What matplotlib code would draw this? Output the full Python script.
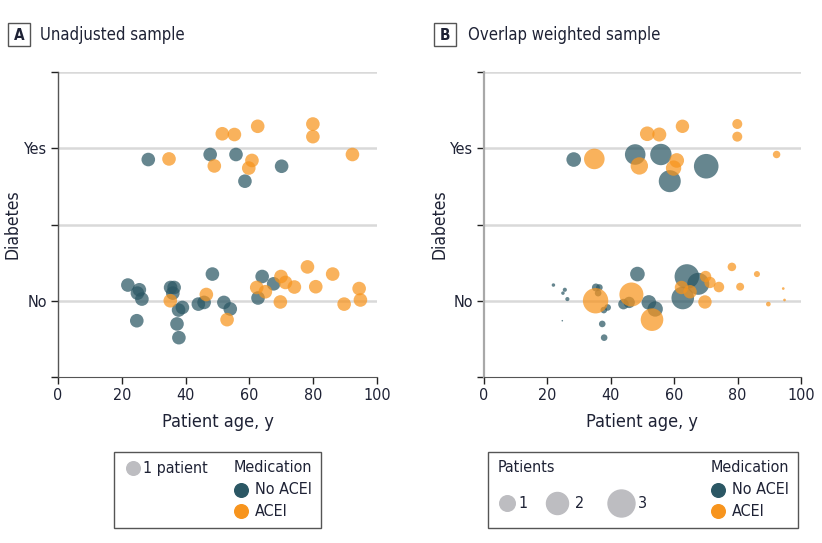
import matplotlib.pyplot as plt
from matplotlib.patches import Rectangle

# Font: condensed sans, fall back to DejaVu
plt.rcParams['font.family'] = ['DejaVu Sans Condensed', 'DejaVu Sans']
plt.rcParams['font.stretch'] = 'condensed'

# Dati: pazienti con diabete (Yes) - eta, posizione jitter, ACEI, peso overlap
yes_age = [28.3, 34.8, 51.5, 55.3, 62.6, 79.9, 79.9, 47.7, 55.8, 49.0, 60.8, 59.8, 70.1, 58.6, 92.3]
yes_pos = [0.926, 0.930, 1.095, 1.090, 1.144, 1.159, 1.076, 0.959, 0.959, 0.884, 0.920, 0.870, 0.882, 0.784, 0.959]
yes_acei = [0, 1, 1, 1, 1, 1, 1, 0, 0, 1, 1, 1, 0, 0, 1]
yes_w = [0.88, 1.74, 0.88, 0.81, 0.74, 0.41, 0.41, 1.74, 1.88, 1.24, 0.88, 0.97, 2.49, 1.99, 0.23]

# Dati: pazienti senza diabete (No)
no_age = [21.9, 25.5, 24.9, 26.3, 24.7, 35.3, 36.4, 36.0, 35.2, 39.0, 37.8, 37.3, 37.9,
          46.5, 48.4, 44.0, 45.8, 52.0, 54.0, 53.0, 64.0, 67.6, 62.7, 62.3, 65.0,
          69.9, 71.3, 74.1, 69.7, 78.2, 80.8, 86.1, 89.7, 94.4, 94.8]
no_pos = [0.103, 0.072, 0.050, 0.011, -0.131, 0.087, 0.087, 0.050, 0.000, -0.044, -0.061, -0.152, -0.242,
          0.041, 0.175, -0.022, -0.011, -0.011, -0.054, -0.124, 0.159, 0.111, 0.018, 0.087, 0.059,
          0.159, 0.120, 0.090, -0.008, 0.222, 0.092, 0.175, -0.022, 0.080, 0.005]
no_acei = [0, 0, 0, 0, 0, 0, 0, 0, 1, 0, 0, 0, 0,
           1, 0, 0, 0, 0, 0, 1, 0, 0, 0, 1, 1,
           1, 1, 1, 1, 1, 1, 1, 1, 1, 1]
no_w = [0.05, 0.07, 0.05, 0.07, 0.01, 0.26, 0.18, 0.18, 2.65, 0.18, 0.18, 0.18, 0.18,
        2.37, 0.88, 0.46, 0.53, 0.88, 0.97, 2.10, 2.49, 1.99, 2.10, 0.74, 0.74,
        0.53, 0.53, 0.46, 0.74, 0.30, 0.26, 0.15, 0.09, 0.03, 0.03]

ages = yes_age + no_age
pos = yes_pos + no_pos
acei = yes_acei + no_acei
weights = yes_w + no_w

titoli = ['Unadjusted sample', 'Overlap weighted sample']
legend_sizes = [1, 2, 3]

TEAL = '#2b5764'
ORANGE = '#f7941d'
GREY = '#bdbdc1'
TXT = '#1e2235'
LEG_FS = 11.5

fig = plt.figure(figsize=(8.22, 5.43), dpi=100)
W, H = 822, 543

S1 = 96   # area (pt^2) of one patient in panel A
SB = 126  # area per unit weight in panel B


def px_axes(left, right, top, bottom):
    return [left / W, 1 - bottom / H, (right - left) / W, (bottom - top) / H]


axA = fig.add_axes(px_axes(58, 377, 72, 377))
axB = fig.add_axes(px_axes(484, 801, 72, 377))

for i, ax in enumerate([axA, axB]):
    ax.set_xlim(0, 100)
    ax.set_ylim(-0.5, 1.5)
    for g in [0, 0.5, 1, 1.5]:
        ax.axhline(g, color='#d9d9d9', lw=1.8, zorder=0)
    for grp in [0, 1]:
        xs = [a for a, m in zip(ages, acei) if m == grp]
        ys = [p for p, m in zip(pos, acei) if m == grp]
        ws = [w for w, m in zip(weights, acei) if m == grp]
        if i == 0:
            sizes = [S1] * len(xs)
        else:
            sizes = [SB * w for w in ws]
        ax.scatter(xs, ys, s=sizes, color=[TEAL, ORANGE][grp], alpha=0.72,
                   linewidths=0, zorder=3)
    ax.set_yticks([-0.5, 0, 0.5, 1, 1.5])
    ax.set_yticklabels(['', 'No', '', 'Yes', ''])
    ax.set_xticks(range(0, 101, 20))
    ax.tick_params(axis='both', direction='out', length=5, width=1, color='#222222',
                   labelsize=11.5, labelcolor=TXT, pad=3)
    ax.spines['top'].set_visible(False)
    ax.spines['right'].set_visible(False)
    spc = '#555555' if i == 0 else '#a8a8a8'
    ax.spines['left'].set_color(spc)
    ax.spines['left'].set_linewidth(1.0 if i == 0 else 1.6)
    ax.spines['bottom'].set_color('#555555')
    ax.set_xlabel('Patient age, y', fontsize=13, color=TXT, labelpad=7)
    ax.set_ylabel('Diabetes', fontsize=12.5, color=TXT)
    ax.yaxis.set_label_coords(-0.113, 0.5)

# Overlay per titoli e legende (coordinate in pixel)
ov = fig.add_axes([0, 0, 1, 1])
ov.set_xlim(0, W)
ov.set_ylim(H, 0)
ov.axis('off')

for lx, lt, tx, tt in [(8, 'A', 40, titoli[0]), (434, 'B', 468, titoli[1])]:
    ov.add_patch(Rectangle((lx, 23), 22, 23, fill=False, ec='#555555', lw=1.0))
    ov.text(lx + 11, 35, lt, ha='center', va='center', fontsize=11, fontweight='bold', color=TXT)
    ov.text(tx, 35, tt, ha='left', va='center', fontsize=12, color=TXT)

# Legenda A
ov.add_patch(Rectangle((114, 452), 207, 76, fill=False, ec='#555555', lw=1.0))
ov.scatter([132.7], [468], s=S1, color=GREY)
ov.text(143, 468, '1 patient', ha='left', va='center', fontsize=LEG_FS, color=TXT)
ov.text(234, 468, 'Medication', ha='left', va='center', fontsize=LEG_FS, color=TXT)
ov.scatter([240.7], [490], s=S1, color=TEAL)
ov.text(255, 490, 'No ACEI', ha='left', va='center', fontsize=LEG_FS, color=TXT)
ov.scatter([240.7], [511], s=S1, color=ORANGE)
ov.text(255, 511, 'ACEI', ha='left', va='center', fontsize=LEG_FS, color=TXT)

# Legenda B
ov.add_patch(Rectangle((488, 452), 310, 76, fill=False, ec='#555555', lw=1.0))
ov.text(498, 468, 'Patients', ha='left', va='center', fontsize=LEG_FS, color=TXT)
for n, cx, tx in zip(legend_sizes, [506.7, 557.3, 621], [518, 575, 638]):
    ov.scatter([cx], [503], s=SB * n, color=GREY)
    ov.text(tx, 503, str(n), ha='left', va='center', fontsize=LEG_FS, color=TXT)
ov.text(711, 468, 'Medication', ha='left', va='center', fontsize=LEG_FS, color=TXT)
ov.scatter([718.3], [490], s=S1, color=TEAL)
ov.text(732, 490, 'No ACEI', ha='left', va='center', fontsize=LEG_FS, color=TXT)
ov.scatter([718.3], [511], s=S1, color=ORANGE)
ov.text(732, 511, 'ACEI', ha='left', va='center', fontsize=LEG_FS, color=TXT)

plt.savefig('out.png', dpi=100)
